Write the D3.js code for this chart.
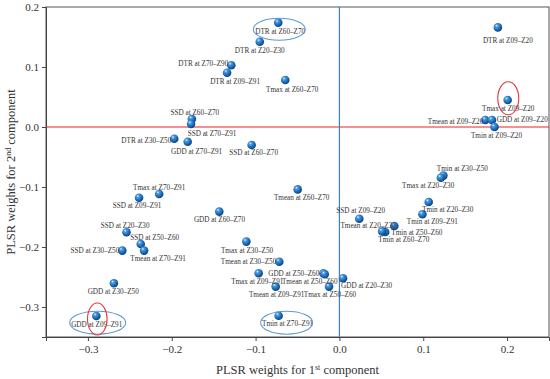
<!DOCTYPE html>
<html>
<head>
<meta charset="utf-8">
<script src="https://cdn.jsdelivr.net/npm/d3@7"></script>
<style>
  html, body { margin: 0; padding: 0; background: #fff; }
  svg { display: block; }
  text { font-family: "Liberation Serif", "Times New Roman", serif; fill: #333; }
</style>
</head>
<body>
<svg id="chart" width="550" height="379"></svg>
<script>
// ---------- data ----------
const labels = [
  "DTR at Z60–Z70", "DTR at Z20–Z30", "DTR at Z70–Z90", "DTR at Z09–Z91", "Tmax at Z60–Z70",
  "SSD at Z60–Z70", "SSD at Z70–Z91", "DTR at Z30–Z50", "GDD at Z70–Z91", "SSD at Z60–Z70 ",
  "DTR at Z09–Z20", "Tmax at Z09–Z20", "Tmean at Z09–Z20", "GDD at Z09–Z20", "Tmin at Z09–Z20",
  "Tmin at Z30–Z50", "Tmax at Z20–Z30", "Tmin at Z20–Z30", "Tmin at Z09–Z91", "Tmin at Z50–Z60",
  "Tmin at Z60–Z70", "Tmean at Z20–Z30", "SSD at Z09–Z20", "Tmax at Z70–Z91", "SSD at Z09–Z91",
  "SSD at Z20–Z30", "SSD at Z50–Z60", "SSD at Z30–Z50", "Tmean at Z70–Z91", "GDD at Z30–Z50",
  "GDD at Z09–Z91", "Tmean at Z60–Z70", "GDD at Z60–Z70", "Tmax at Z30–Z50", "Tmean at Z30–Z50",
  "Tmax at Z09–Z91", "GDD at Z50–Z60", "Tmean at Z50–Z60", "Tmean at Z09–Z91", "Tmax at Z50–Z60",
  "GDD at Z20–Z30", "Tmin at Z70–Z91"
];
const comp1 = [
  -0.073, -0.095, -0.129, -0.134, -0.0646,
  -0.176, -0.177, -0.197, -0.181, -0.1047,
  0.189, 0.2007, 0.174, 0.182, 0.185,
  0.124, 0.121, 0.1065, 0.099, 0.0655,
  0.0546, 0.051, 0.0237, -0.215, -0.239,
  -0.254, -0.237, -0.259, -0.233, -0.269,
  -0.290, -0.0498, -0.1433, -0.111, -0.0717,
  -0.0963, -0.0192, -0.0175, -0.076, -0.0124,
  0.0043, -0.0725
];
const comp2 = [
  0.174, 0.142, 0.103, 0.0905, 0.0783,
  0.0133, 0.005, -0.0195, -0.0245, -0.030,
  0.166, 0.045, 0.0117, 0.0117, 0.000,
  -0.081, -0.0845, -0.125, -0.1455, -0.165,
  -0.175, -0.174, -0.153, -0.1117, -0.118,
  -0.1755, -0.195, -0.206, -0.206, -0.2605,
  -0.315, -0.104, -0.141, -0.191, -0.2245,
  -0.2438, -0.2438, -0.2455, -0.266, -0.266,
  -0.252, -0.3145
];
const xTicks = [-0.3, -0.2, -0.1, 0.0, 0.1, 0.2];
const yTicks = [0.2, 0.1, 0.0, -0.1, -0.2, -0.3];
const xTitle = ["PLSR weights for 1", "st", " component"];
const yTitle = ["PLSR weights for 2", "nd", " component"];

// ---------- layout (label placement, annotations) ----------
// [dx, dy(center), anchor]
const labelPlace = [
  [2, 9.3, "middle"], [0, 8.7, "middle"], [-3, -2, "end"], [8, 9, "middle"], [7, 9.3, "middle"],
  [3, -6.3, "middle"], [21, 9, "middle"], [-3, 2, "end"], [9, 9.3, "middle"], [2, 7.7, "middle"],
  [10, 13.4, "middle"], [0.6, 8.3, "middle"], [-2, 1.7, "end"], [4.7, -1, "start"], [2, 8, "middle"],
  [19, -6.7, "middle"], [-12.7, 8, "middle"], [19, 7, "middle"], [10, 7.4, "middle"], [-3, 6.7, "start"],
  [18.7, 7.3, "middle"], [-14, -5.7, "middle"], [1.4, -8, "middle"], [0, -6.7, "middle"], [-2, 7.3, "middle"],
  [-1.3, -7.3, "middle"], [14, -6.3, "middle"], [-3, 0.3, "end"], [14, 8, "middle"], [-0.7, 8.4, "middle"],
  [0.4, 8.3, "middle"], [4, 8.4, "middle"], [0.2, 7.6, "middle"], [0.7, 9, "middle"], [-3, 0, "end"],
  [-1.4, 8.4, "middle"], [-4, 0.4, "end"], [-15, 7, "middle"], [1, 8, "middle"], [1, 8, "middle"],
  [-2, 7.7, "start"], [9, 7.6, "middle"]
];
const highlights = [
  { target: "DTR at Z60–Z70", dx: 1, dy: 6.6, rx: 26, ry: 11, color: "#5b9bd5" },
  { target: "Tmax at Z09–Z20", dx: 0.6, dy: -1.7, rx: 10.5, ry: 16.5, color: "#e8383d" },
  { target: "GDD at Z09–Z91", dx: 1.4, dy: 6.7, rx: 28, ry: 11.5, color: "#5b9bd5" },
  { target: "GDD at Z09–Z91", dx: 1, dy: 3, rx: 9.8, ry: 16, color: "#e8383d" },
  { target: "Tmin at Z70–Z91", dx: 8, dy: 7, rx: 26, ry: 11.5, color: "#5b9bd5" }
];

const margin = { left: 46, right: 1, top: 7, bottom: 42 };
const W = 550, H = 379;
const svg = d3.select("#chart");

const x = d3.scaleLinear().domain([-0.35, 0.25]).range([margin.left, W - margin.right]);
const y = d3.scaleLinear().domain([-0.35, 0.2]).range([H - margin.bottom, margin.top]);

// gradient for 3D spheres
const defs = svg.append("defs");
const grad = defs.append("radialGradient").attr("id", "sphere")
  .attr("cx", "38%").attr("cy", "35%").attr("r", "65%").attr("fx", "35%").attr("fy", "30%");
grad.append("stop").attr("offset", "0%").attr("stop-color", "#e8f3ff");
grad.append("stop").attr("offset", "25%").attr("stop-color", "#4a9be0");
grad.append("stop").attr("offset", "70%").attr("stop-color", "#1a66b3");
grad.append("stop").attr("offset", "100%").attr("stop-color", "#0d437c");

// frame
svg.append("rect")
  .attr("x", x.range()[0]).attr("y", y.range()[1])
  .attr("width", x.range()[1] - x.range()[0]).attr("height", y.range()[0] - y.range()[1])
  .attr("fill", "none").attr("stroke", "#555").attr("stroke-width", 1);

// axes
const fmt = d => d3.format(".1f")(d).replace("-", "−");
const xAxis = svg.append("g").attr("transform", `translate(0,${y.range()[0]})`)
  .call(d3.axisBottom(x).tickValues(xTicks).tickFormat(fmt).tickSize(4).tickPadding(4));
const yAxis = svg.append("g").attr("transform", `translate(${x.range()[0]},0)`)
  .call(d3.axisLeft(y).tickValues(yTicks).tickFormat(fmt).tickSize(4).tickPadding(3));
[xAxis, yAxis].forEach(g => {
  g.select(".domain").attr("stroke", "#444");
  g.selectAll(".tick line").attr("stroke", "#444");
  g.selectAll(".tick text").attr("font-size", 11).attr("font-family", "Liberation Serif").attr("fill", "#333");
});

// reference lines
svg.append("line")
  .attr("x1", x.range()[0]).attr("x2", x.range()[1])
  .attr("y1", y(0)).attr("y2", y(0))
  .attr("stroke", "#ee2222").attr("stroke-width", 1.2);
svg.append("line")
  .attr("x1", x(0)).attr("x2", x(0))
  .attr("y1", y.range()[0]).attr("y2", y.range()[1])
  .attr("stroke", "#3d7fc9").attr("stroke-width", 1.2);

const pts = labels.map((l, i) => ({ label: l.trim(), key: l, x: comp1[i], y: comp2[i], p: labelPlace[i] }));

// points
svg.append("g").selectAll("circle").data(pts).join("circle")
  .attr("cx", d => x(d.x)).attr("cy", d => y(d.y)).attr("r", 4.3)
  .attr("fill", "url(#sphere)");

// labels
svg.append("g").selectAll("text").data(pts).join("text")
  .attr("x", d => x(d.x) + d.p[0])
  .attr("y", d => y(d.y) + d.p[1])
  .attr("dy", "0.35em")
  .attr("text-anchor", d => d.p[2])
  .attr("font-size", 7.2)
  .attr("fill", "#333")
  .text(d => d.label);

// highlight ellipses
svg.append("g").selectAll("ellipse").data(highlights).join("ellipse")
  .attr("cx", d => { const p = pts.find(q => q.key === d.target); return x(p.x) + d.dx; })
  .attr("cy", d => { const p = pts.find(q => q.key === d.target); return y(p.y) + d.dy; })
  .attr("rx", d => d.rx).attr("ry", d => d.ry)
  .attr("fill", "none").attr("stroke", d => d.color).attr("stroke-width", 1.1);

// axis titles
const xt = svg.append("text")
  .attr("x", (x.range()[0] + x.range()[1]) / 2).attr("y", 374)
  .attr("text-anchor", "middle").attr("font-size", 12.5);
xt.append("tspan").text(xTitle[0]);
xt.append("tspan").attr("font-size", 8).attr("dy", "-0.5em").text(xTitle[1]);
xt.append("tspan").attr("dy", "0.32em").text(xTitle[2]);

const yt = svg.append("text")
  .attr("transform", `translate(15,${(y.range()[0] + y.range()[1]) / 2}) rotate(-90)`)
  .attr("text-anchor", "middle").attr("font-size", 12.5);
yt.append("tspan").text(yTitle[0]);
yt.append("tspan").attr("font-size", 8).attr("dy", "-0.5em").text(yTitle[1]);
yt.append("tspan").attr("dy", "0.32em").text(yTitle[2]);
</script>
</body>
</html>
